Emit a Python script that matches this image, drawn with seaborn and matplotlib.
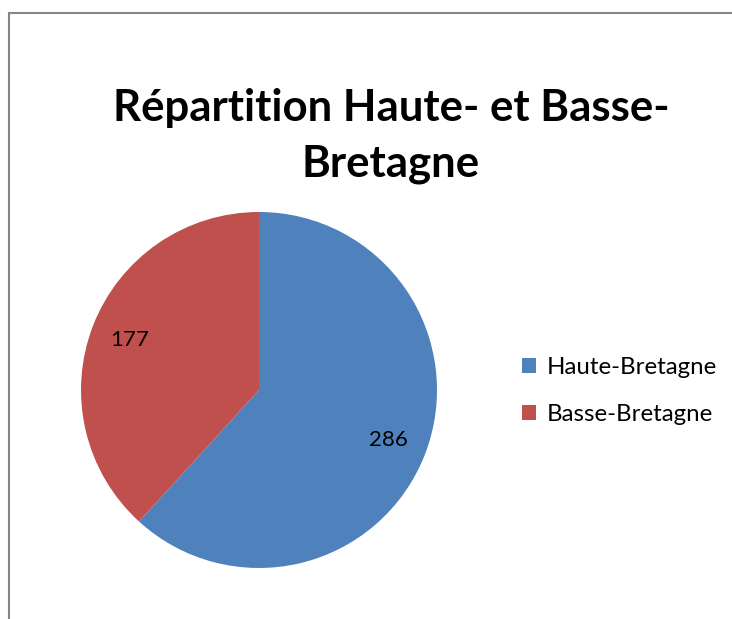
import matplotlib
matplotlib.use("Agg")
import matplotlib.pyplot as plt
import seaborn as sns
from matplotlib.patches import Rectangle, Patch

# ── Data ──────────────────────────────────────────────────────────────────────
regions = ["Haute-Bretagne", "Basse-Bretagne"]
counts = [286, 177]
colors = ["#4F81BD", "#C0504D"]
title = "Répartition Haute- et Basse-\nBretagne"

sns.set_theme(style="white")
plt.rcParams["font.family"] = ["Lato", "DejaVu Sans"]
plt.rcParams["text.color"] = "black"

W, H = 732, 619
fig = plt.figure(figsize=(W / 100, H / 100), dpi=100)

# chart-area frame (top and left edges visible, rest off-canvas)
fig.patches.append(Rectangle((8.5 / W, -0.1), 1.2, (H - 12.5) / H + 0.1,
                             transform=fig.transFigure, fill=False,
                             edgecolor="#868686", linewidth=1.5))

# ── Pie ───────────────────────────────────────────────────────────────────────
cx, cy, r = 259, 390, 178
ax = fig.add_axes([(cx - r) / W, (H - cy - r) / H, 2 * r / W, 2 * r / H])
wedges, _, autotexts = ax.pie(
    counts, colors=colors, startangle=90, counterclock=False,
    autopct=lambda p: f"{round(p * sum(counts) / 100):d}",
    pctdistance=0.78, radius=1.0,
    wedgeprops=dict(linewidth=0),
    textprops=dict(fontsize=16, color="black"),
)
ax.set_xlim(-1, 1)
ax.set_ylim(-1, 1)
ax.set_aspect("equal")
ax.axis("off")

# ── Title ─────────────────────────────────────────────────────────────────────
fig.text(391 / W, 1 - 136 / H, title, ha="center", va="center",
         fontsize=31.5, fontweight="bold", linespacing=1.48, color="black")

# ── Legend ────────────────────────────────────────────────────────────────────
handles = [Patch(facecolor=c, edgecolor="none") for c in colors]
fig.legend(handles, regions, loc="center left",
           bbox_to_anchor=(500 / W, 1 - 391 / H), frameon=False,
           fontsize=17.3, handlelength=0.58, handleheight=0.58,
           handletextpad=0.48, labelspacing=1.05, labelcolor="black")

fig.savefig("out.png", dpi=100, facecolor="white")
